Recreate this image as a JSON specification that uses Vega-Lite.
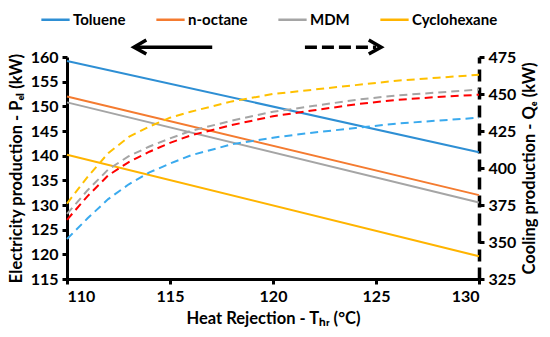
{
  "$schema": "https://vega.github.io/schema/vega-lite/v6.json",
  "width": 412,
  "height": 222,
  "autosize": {"type": "none"},
  "padding": {"left": 67, "top": 57, "right": 71, "bottom": 58},
  "config": {
    "view": {"stroke": null},
    "font": "Lato",
    "axis": {
      "labelFont": "Lato", "labelFontSize": 16, "labelFontWeight": "bold", "labelColor": "#000", "labelOverlap": false,
      "titleFont": "Lato", "titleFontSize": 16.5, "titleFontWeight": "bold", "titleColor": "#000",
      "domainColor": "#000", "domainWidth": 3, "tickColor": "#000", "tickWidth": 3, "tickSize": 5, "grid": false
    }
  },
  "datasets": {
    "electricity": [
      {"fluid": "Toluene", "T": 110, "P": 159.2}, {"fluid": "Toluene", "T": 130, "P": 140.7},
      {"fluid": "n-octane", "T": 110, "P": 152.0}, {"fluid": "n-octane", "T": 130, "P": 132.0},
      {"fluid": "MDM", "T": 110, "P": 150.8}, {"fluid": "MDM", "T": 130, "P": 130.5},
      {"fluid": "Cyclohexane", "T": 110, "P": 140.2}, {"fluid": "Cyclohexane", "T": 130, "P": 119.6}
    ],
    "cooling": [
      {"fluid": "Toluene", "T": 110, "Q": 352}, {"fluid": "Toluene", "T": 111, "Q": 366}, {"fluid": "Toluene", "T": 112, "Q": 379}, {"fluid": "Toluene", "T": 113, "Q": 389}, {"fluid": "Toluene", "T": 114, "Q": 397}, {"fluid": "Toluene", "T": 115, "Q": 403}, {"fluid": "Toluene", "T": 116, "Q": 408.5}, {"fluid": "Toluene", "T": 118, "Q": 416}, {"fluid": "Toluene", "T": 120, "Q": 420.5}, {"fluid": "Toluene", "T": 122, "Q": 424}, {"fluid": "Toluene", "T": 124, "Q": 427}, {"fluid": "Toluene", "T": 126, "Q": 430}, {"fluid": "Toluene", "T": 128, "Q": 432}, {"fluid": "Toluene", "T": 130, "Q": 434},
      {"fluid": "n-octane", "T": 110, "Q": 365}, {"fluid": "n-octane", "T": 111, "Q": 381}, {"fluid": "n-octane", "T": 112, "Q": 395}, {"fluid": "n-octane", "T": 113, "Q": 404}, {"fluid": "n-octane", "T": 114, "Q": 411}, {"fluid": "n-octane", "T": 115, "Q": 417}, {"fluid": "n-octane", "T": 116, "Q": 422}, {"fluid": "n-octane", "T": 118, "Q": 429}, {"fluid": "n-octane", "T": 120, "Q": 435}, {"fluid": "n-octane", "T": 122, "Q": 439}, {"fluid": "n-octane", "T": 124, "Q": 443}, {"fluid": "n-octane", "T": 126, "Q": 446}, {"fluid": "n-octane", "T": 128, "Q": 448}, {"fluid": "n-octane", "T": 130, "Q": 449.5},
      {"fluid": "MDM", "T": 110, "Q": 369}, {"fluid": "MDM", "T": 111, "Q": 385}, {"fluid": "MDM", "T": 112, "Q": 399}, {"fluid": "MDM", "T": 113, "Q": 408}, {"fluid": "MDM", "T": 114, "Q": 414.5}, {"fluid": "MDM", "T": 115, "Q": 420}, {"fluid": "MDM", "T": 116, "Q": 425}, {"fluid": "MDM", "T": 118, "Q": 432}, {"fluid": "MDM", "T": 120, "Q": 438}, {"fluid": "MDM", "T": 122, "Q": 442}, {"fluid": "MDM", "T": 124, "Q": 446}, {"fluid": "MDM", "T": 126, "Q": 449}, {"fluid": "MDM", "T": 128, "Q": 451}, {"fluid": "MDM", "T": 130, "Q": 453},
      {"fluid": "Cyclohexane", "T": 110, "Q": 376}, {"fluid": "Cyclohexane", "T": 111, "Q": 394}, {"fluid": "Cyclohexane", "T": 112, "Q": 410}, {"fluid": "Cyclohexane", "T": 113, "Q": 421}, {"fluid": "Cyclohexane", "T": 114, "Q": 428}, {"fluid": "Cyclohexane", "T": 115, "Q": 434}, {"fluid": "Cyclohexane", "T": 116, "Q": 438}, {"fluid": "Cyclohexane", "T": 118, "Q": 445}, {"fluid": "Cyclohexane", "T": 120, "Q": 450}, {"fluid": "Cyclohexane", "T": 122, "Q": 453}, {"fluid": "Cyclohexane", "T": 124, "Q": 456}, {"fluid": "Cyclohexane", "T": 126, "Q": 459}, {"fluid": "Cyclohexane", "T": 128, "Q": 461}, {"fluid": "Cyclohexane", "T": 130, "Q": 463}
    ],
    "arrows": [
      {"part": "leftShaft", "i": 0, "T": 113.25, "P": 162.0}, {"part": "leftShaft", "i": 1, "T": 117.05, "P": 162.0},
      {"part": "leftHead", "i": 0, "T": 113.85, "P": 163.45}, {"part": "leftHead", "i": 1, "T": 113.25, "P": 162.0}, {"part": "leftHead", "i": 2, "T": 113.85, "P": 160.6},
      {"part": "rightShaft", "i": 0, "T": 121.55, "P": 162.0}, {"part": "rightShaft", "i": 1, "T": 125.0, "P": 162.0},
      {"part": "rightHead", "i": 0, "T": 124.65, "P": 163.45}, {"part": "rightHead", "i": 1, "T": 125.25, "P": 162.0}, {"part": "rightHead", "i": 2, "T": 124.65, "P": 160.6}
    ]
  },
  "layer": [
    {
      "layer": [
        {
          "data": {"name": "electricity"},
          "mark": {"type": "line", "strokeWidth": 2},
          "encoding": {
            "x": {"field": "T", "type": "quantitative", "scale": {"domain": [110, 130], "nice": false, "zero": false},
                  "axis": {"values": [110, 115, 120, 125, 130], "title": "Heat Rejection - Tₕᵣ (°C)", "titlePadding": 6, "labelPadding": 4, "labelOverlap": false}},
            "y": {"field": "P", "type": "quantitative", "scale": {"domain": [115, 160], "nice": false, "zero": false},
                  "axis": {"values": [115, 120, 125, 130, 135, 140, 145, 150, 155, 160], "title": "Electricity production - Pₑₗ (kW)", "titlePadding": 6, "labelPadding": 4, "labelOverlap": false}},
            "color": {"field": "fluid", "type": "nominal",
                      "scale": {"domain": ["Toluene", "n-octane", "MDM", "Cyclohexane"], "range": ["#2E8FD4", "#F47B30", "#A5A5A5", "#FFB400"]},
                      "legend": {"title": null, "orient": "none", "direction": "horizontal", "columns": 4, "legendX": -27, "legendY": -53,
                                 "symbolType": "stroke", "symbolSize": 800, "symbolStrokeWidth": 2.5, "columnPadding": 25, "labelOffset": 2,
                                 "labelFont": "Lato", "labelFontSize": 15, "labelFontWeight": "bold", "labelColor": "#000"}}
          }
        },
        {
          "data": {"name": "arrows"},
          "transform": [{"filter": "datum.part != 'rightShaft'"}],
          "mark": {"type": "line", "strokeWidth": 3.5, "color": "#000", "clip": false},
          "encoding": {
            "x": {"field": "T", "type": "quantitative",
                  "axis": {"values": [110, 115, 120, 125, 130], "title": "Heat Rejection - Tₕᵣ (°C)", "titlePadding": 6, "labelPadding": 4, "labelOverlap": false}},
            "y": {"field": "P", "type": "quantitative",
                  "axis": {"values": [115, 120, 125, 130, 135, 140, 145, 150, 155, 160], "title": "Electricity production - Pₑₗ (kW)", "titlePadding": 6, "labelPadding": 4, "labelOverlap": false}},
            "detail": {"field": "part"},
            "order": {"field": "i"}
          }
        },
        {
          "data": {"name": "arrows"},
          "transform": [{"filter": "datum.part == 'rightShaft'"}],
          "mark": {"type": "line", "strokeWidth": 3.5, "color": "#000", "strokeDash": [12, 5], "clip": false},
          "encoding": {
            "x": {"field": "T", "type": "quantitative",
                  "axis": {"values": [110, 115, 120, 125, 130], "title": "Heat Rejection - Tₕᵣ (°C)", "titlePadding": 6, "labelPadding": 4, "labelOverlap": false}},
            "y": {"field": "P", "type": "quantitative",
                  "axis": {"values": [115, 120, 125, 130, 135, 140, 145, 150, 155, 160], "title": "Electricity production - Pₑₗ (kW)", "titlePadding": 6, "labelPadding": 4, "labelOverlap": false}},
            "order": {"field": "i"}
          }
        }
      ]
    },
    {
      "data": {"name": "cooling"},
      "mark": {"type": "line", "strokeWidth": 2, "strokeDash": [8, 5]},
      "encoding": {
        "x": {"field": "T", "type": "quantitative",
              "axis": {"values": [110, 115, 120, 125, 130], "title": "Heat Rejection - Tₕᵣ (°C)", "titlePadding": 6, "labelPadding": 4, "labelOverlap": false}},
        "y": {"field": "Q", "type": "quantitative", "scale": {"domain": [325, 475], "nice": false, "zero": false},
              "axis": {"orient": "right", "values": [325, 350, 375, 400, 425, 450, 475], "title": "Cooling production - Qₑ (kW)",
                       "domainDash": [12, 6], "domainWidth": 3.5, "titleAngle": -90, "titleBaseline": "top", "titlePadding": 6, "labelPadding": 4, "labelOverlap": false}},
        "color": {"field": "fluid", "type": "nominal",
                  "scale": {"domain": ["Toluene", "n-octane", "MDM", "Cyclohexane"], "range": ["#3AAAEE", "#FF0000", "#A5A5A5", "#FFC000"]},
                  "legend": null}
      }
    }
  ],
  "resolve": {"scale": {"y": "independent", "color": "independent"}}
}
